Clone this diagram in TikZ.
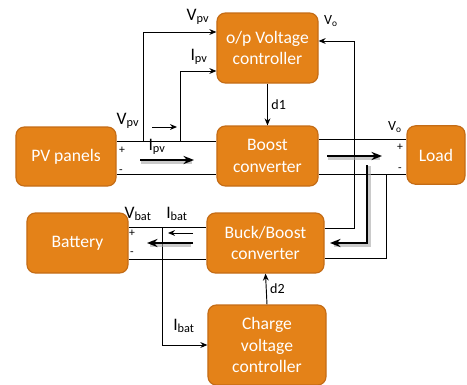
\documentclass[tikz,border=0pt]{standalone}
\usepackage{fontspec}
\setmainfont{Carlito}
\usetikzlibrary{arrows.meta}

\definecolor{boxfill}{RGB}{228,130,24}
\definecolor{boxline}{RGB}{196,108,22}

\tikzset{
  block/.style={draw=boxline, fill=boxfill, line width=1pt, rounded corners=0.25cm,
    text=white, align=center, inner sep=0pt, font=\fontsize{15}{18.7}\selectfont},
  wire/.style={line width=0.8pt},
  sig/.style={line width=0.8pt, -{Stealth[length=6pt,width=5pt]}},
  flow/.style={line width=2.2pt, -{Stealth[length=9pt,width=7pt]}},
  shade/.style={line width=2.6pt, black!35, opacity=0.6},
  lbl/.style={font=\fontsize{15}{15}\selectfont, inner sep=0pt},
  slbl/.style={font=\fontsize{12}{12}\selectfont, inner sep=0pt},
  pm/.style={font=\fontsize{10}{10}\selectfont, inner sep=0pt}
}

\begin{document}
\begin{tikzpicture}[x=0.03cm, y=-0.03cm]
\useasboundingbox (0,0) rectangle (467,385);

% blocks
\node[block, minimum width=3cm, minimum height=1.77cm] (pv) at (66,156.5) {PV panels};
\node[block, minimum width=3.03cm, minimum height=2.1cm] (ctrl) at (267.5,48) {o/p Voltage\\controller};
\node[block, minimum width=3.03cm, minimum height=1.8cm] (boost) at (267.5,156) {Boost\\converter};
\node[block, minimum width=1.74cm, minimum height=1.75cm] (load) at (436,155) {Load};
\node[block, minimum width=3.03cm, minimum height=1.8cm] (bat) at (77.5,243) {Battery};
\node[block, minimum width=3.51cm, minimum height=1.8cm] (buck) at (265.5,243) {Buck/Boost\\converter};
\node[block, minimum width=3.54cm, minimum height=2.4cm] (chg) at (267,345) {Charge\\voltage\\controller};

% junctions
\coordinate (vpv) at (143,141);
\coordinate (ipv) at (180,141);
\coordinate (vo) at (354,41);
\coordinate (ret) at (386,174);
\coordinate (ibat) at (162,227);

% pv side rails
\draw[wire] (pv.east |- 0,141) -- (boost.west |- 0,141);
\draw[wire] (pv.east |- 0,174) -- (boost.west |- 0,174);

% load side rails
\draw[wire] (boost.east |- 0,139) -- (load.west |- 0,139);
\draw[wire] (boost.east |- 0,174) -- (load.west |- 0,174);

% battery rails
\draw[wire] (bat.east |- 0,227) -- (buck.west |- 0,227);
\draw[wire] (bat.east |- 0,259) -- (buck.west |- 0,259);

% measurements
\draw[sig] (vpv) |- (ctrl.west |- 0,32);
\draw[sig] (ipv) |- (ctrl.west |- 0,71);
\draw[sig] (buck.east |- 0,228) -| (vo) -- (ctrl.east |- vo);
\draw[wire] (buck.east |- 0,258) -| (ret);
\draw[sig] (ibat) |- (chg.west |- 0,345);

% duty cycles
\draw[sig] (ctrl.south) -- (boost.north) node[midway, right=3pt, slbl] {d1};
\draw[sig] (chg.north) -- (buck.south) node[midway, right=3pt, slbl] {d2};

% current direction
\draw[sig] (152,127) -- (177,127);
\draw[sig] (193,233) -- (168,233);
\draw[shade] (141,162) -- (192,162);
\draw[flow] (140,160) -- (194,160);
\draw[shade] (328,158) -- (380,158);
\draw[flow] (327,156) -- (382,156);
\draw[shade] (369,166) |- (334,245);
\draw[flow] (367,165) |- (330,243);
\draw[shade] (191,245) -- (150,245);
\draw[flow] (193,243) -- (147,243);

% labels
\node[lbl] (lvpv1) at (198,17) {V\textsubscript{pv}};
\node[lbl] (lipv1) at (199,57) {I\textsubscript{pv}};
\node[lbl] (lvpv2) at (128,121) {V\textsubscript{pv}};
\node[lbl] (lipv2) at (157,147) {I\textsubscript{pv}};
\node[slbl] (lvo1) at (331,21) {V\textsubscript{o}};
\node[slbl] (lvo2) at (395,127) {V\textsubscript{o}};
\node[lbl] (lvbat) at (138,214) {V\textsubscript{bat}};
\node[lbl] (libat1) at (177,214) {I\textsubscript{bat}};
\node[lbl] (libat2) at (184,326) {I\textsubscript{bat}};
\node[pm] (p1) at (122,150) {+};
\node[pm] (m1) at (121,172) {-};
\node[pm] (p2) at (400,147) {+};
\node[pm] (m2) at (400,170) {-};
\node[pm] (p3) at (132,233) {+};
\node[pm] (m3) at (132,254) {-};

\end{tikzpicture}
\end{document}
